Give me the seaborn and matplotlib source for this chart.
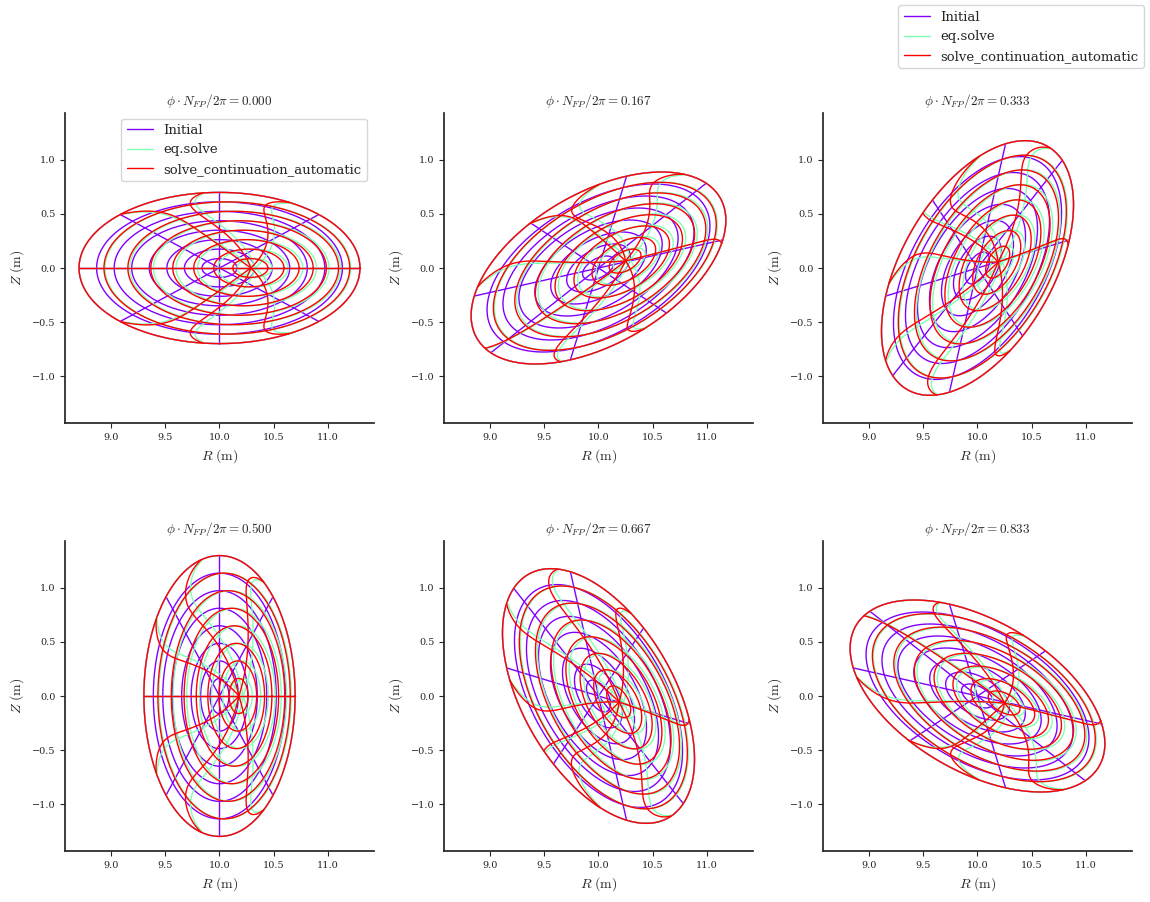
import numpy as np
import pandas as pd
import matplotlib
matplotlib.use("Agg")
import matplotlib.pyplot as plt
import seaborn as sns

# ---------------- data ----------------
phases = [0.0, 1 / 6, 1 / 3, 1 / 2, 2 / 3, 5 / 6]          # phi*N_FP/2pi
rho_levels = [0.125, 0.25, 0.375, 0.5, 0.625, 0.75, 0.875, 1.0]
theta_levels = [0.0, 0.25, 0.5, 0.75, 1.0, 1.25, 1.5, 1.75]  # in units of pi
eq_names = ["Initial", "eq.solve", "solve_continuation_automatic"]

R_major = 10.0           # boundary centre (m)
minor_radius = 1.0       # mean minor radius (m)
ellipticity = 0.3        # rotating-ellipse amplitude (m)

# magnetic axis position per phase
axis_R_initial = [10.0, 10.0, 10.0, 10.0, 10.0, 10.0]
axis_Z_initial = [0.0, 0.0, 0.0, 0.0, 0.0, 0.0]
axis_R_solve = [10.33, 10.29, 10.23, 10.22, 10.23, 10.29]
axis_Z_solve = [0.0, 0.075, 0.06, 0.0, -0.06, -0.075]
axis_R_cont = [10.29, 10.25, 10.19, 10.18, 10.19, 10.25]
axis_Z_cont = [0.0, 0.065, 0.055, 0.0, -0.055, -0.065]

# poloidal-angle twist of the solved equilibria (degrees), harmonics m = 1,2,3
twist_core_phase0 = [11.0, 17.0, -4.0]
twist_core_phase_half = [29.6, 1.0, -1.3]
twist_edge_phase0 = [8.6, 7.5, 2.0]
twist_edge_phase_half = [14.4, -1.5, 0.4]
twist_scale_solve = 0.88
twist_scale_cont = 1.0

colors = ["#8000ff", "#80ffb4", "#ff0000"]


def twist(rho, theta, psi, scale):
    core = np.zeros_like(theta)
    edge = np.zeros_like(theta)
    for m in range(3):
        c0 = 0.5 * (twist_core_phase0[m] + twist_core_phase_half[m])
        c1 = 0.5 * (twist_core_phase0[m] - twist_core_phase_half[m])
        e0 = 0.5 * (twist_edge_phase0[m] + twist_edge_phase_half[m])
        e1 = 0.5 * (twist_edge_phase0[m] - twist_edge_phase_half[m])
        k = m + 1
        core += c0 * np.sin(k * theta) + c1 * np.sin(k * theta - psi)
        edge += e0 * np.sin(k * theta) + e1 * np.sin(k * theta - psi)
    g = (1 - rho ** 10) * (0.7 + 0.8 * rho)
    return scale * np.deg2rad(core * g + edge * rho ** 10)


def surface_points(rho, theta, ip, axR, axZ, scale):
    psi = 2 * np.pi * phases[ip]
    th = theta + (twist(rho, theta, psi, scale) if scale else 0.0)
    w = rho * (minor_radius * np.exp(1j * th)
               + ellipticity * np.exp(1j * psi) * np.exp(-1j * th))
    shift = (axR[ip] - R_major + 1j * axZ[ip]) * (1 - rho ** 2)
    w = R_major + shift + w
    return w.real, w.imag


eq_axes = [(axis_R_initial, axis_Z_initial, 0.0),
           (axis_R_solve, axis_Z_solve, twist_scale_solve),
           (axis_R_cont, axis_Z_cont, twist_scale_cont)]

rows = []
for ip in range(len(phases)):
    for ie, name in enumerate(eq_names):
        axR, axZ, sc = eq_axes[ie]
        t = np.linspace(0, 2 * np.pi, 361)
        for ir, r in enumerate(rho_levels):
            R, Z = surface_points(np.full_like(t, r), t, ip, axR, axZ, sc)
            rows.append(pd.DataFrame({"R": R, "Z": Z, "eq": name, "phase": ip,
                                      "curve": f"s{ir}"}))
        rr = np.linspace(0, 1, 200)
        for it, tl in enumerate(theta_levels):
            R, Z = surface_points(rr, np.full_like(rr, tl * np.pi), ip, axR, axZ, sc)
            rows.append(pd.DataFrame({"R": R, "Z": Z, "eq": name, "phase": ip,
                                      "curve": f"t{it}"}))
df = pd.concat(rows, ignore_index=True)

# ---------------- plotting ----------------
sns.set_theme(style="ticks")
plt.rcParams["font.family"] = ["DejaVu Serif"]
plt.rcParams["mathtext.fontset"] = "cm"

fig = plt.figure(figsize=(11.5, 9.02), dpi=100)
W, H = 1150.0, 902.0
lefts = [65, 444, 823]
tops = [113, 541]
aw, ah = 309, 310
axes = []
for ip in range(6):
    r, c = divmod(ip, 3)
    ax = fig.add_axes([lefts[c] / W, 1 - (tops[r] + ah) / H, aw / W, ah / H])
    sub = df[df["phase"] == ip]
    sns.lineplot(data=sub, x="R", y="Z", hue="eq", hue_order=eq_names,
                 units="curve", estimator=None, sort=False, palette=colors,
                 linewidth=1.0, legend=False, ax=ax)
    ax.set_xlim(8.57, 11.43)
    ax.set_ylim(-1.435, 1.435)
    ax.set_xticks([9.0, 9.5, 10.0, 10.5, 11.0])
    ax.set_yticks([-1.0, -0.5, 0.0, 0.5, 1.0])
    ax.tick_params(labelsize=7, length=3.5, width=0.8)
    ax.set_xlabel(r"$R ~(\mathrm{m})$", fontsize=10)
    ax.set_ylabel(r"$Z ~(\mathrm{m})$", fontsize=10)
    ax.set_title(r"$\phi \cdot N_{FP}/2\pi = %.3f$" % phases[ip], fontsize=9.5)
    sns.despine(ax=ax)
    axes.append(ax)

handles = [plt.Line2D([], [], color=c, lw=1.0) for c in colors]
axes[0].legend(handles, eq_names, loc="upper right", fontsize=9.5,
               bbox_to_anchor=(0.99, 0.995), borderaxespad=0.3)
fig.legend(handles, eq_names, loc="upper right", fontsize=9.5,
           bbox_to_anchor=(0.997, 0.997), borderaxespad=0.2)

fig.savefig("out.png", dpi=100)
